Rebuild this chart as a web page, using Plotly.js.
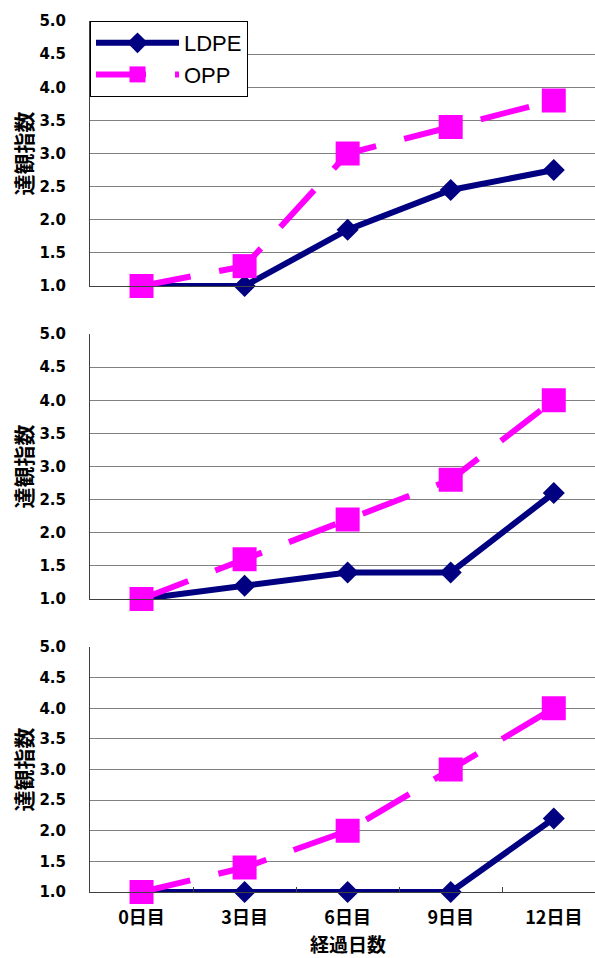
<!DOCTYPE html>
<html>
<head>
<meta charset="utf-8">
<script src="https://cdn.plot.ly/plotly-3.0.1.min.js"></script>
<style>html,body{margin:0;padding:0;background:#fff}</style>
</head>
<body>
<div id="chart" style="width:595px;height:958px"></div>
<script>
// Category labels and index values for the three storage trials
const days = ['0日目', '3日目', '6日目', '9日目', '12日目'];
const seriesNames = ['LDPE', 'OPP'];

const ldpePanel1 = [1.0, 1.0, 1.85, 2.45, 2.75];
const oppPanel1  = [1.0, 1.3, 3.0, 3.4, 3.8];

const ldpePanel2 = [1.0, 1.2, 1.4, 1.4, 2.6];
const oppPanel2  = [1.0, 1.6, 2.2, 2.8, 4.0];

const ldpePanel3 = [1.0, 1.0, 1.0, 1.0, 2.2];
const oppPanel3  = [1.0, 1.4, 2.0, 3.0, 4.0];

const yTickValues = [1.0, 1.5, 2.0, 2.5, 3.0, 3.5, 4.0, 4.5, 5.0];
const yTickLabels = ['1.0', '1.5', '2.0', '2.5', '3.0', '3.5', '4.0', '4.5', '5.0'];

const yTitleText = '達観指数';
const xTitleText = '経過日数';

// ---- layout geometry (pixels of the 595 x 958 page) ----
const W = 595, H = 958;
const px = v => v / W;
const py = v => 1 - v / H;
const panels = [
  { ldpe: ldpePanel1, opp: oppPanel1, top: 21,  bottom: 286 },
  { ldpe: ldpePanel2, opp: oppPanel2, top: 334, bottom: 599 },
  { ldpe: ldpePanel3, opp: oppPanel3, top: 647, bottom: 892 }
];

const NAVY = '#000080';
const MAGENTA = '#FF00FF';
const CJK = '"Noto Sans CJK JP", sans-serif';

const traces = [];
const layout = {
  width: W, height: H,
  margin: { l: 0, r: 0, t: 0, b: 0 },
  paper_bgcolor: '#ffffff',
  plot_bgcolor: '#ffffff',
  showlegend: true,
  legend: {
    x: px(90), y: py(21), xanchor: 'left', yanchor: 'top',
    bgcolor: '#ffffff', bordercolor: '#000000', borderwidth: 1,
    font: { family: '"Liberation Sans", Arial, sans-serif', size: 22, color: '#000000' },
    itemwidth: 83, tracegroupgap: 0, traceorder: 'normal',
    itemsizing: 'trace'
  },
  annotations: []
};

panels.forEach((p, i) => {
  const n = i + 1;
  const xa = n === 1 ? 'x' : 'x' + n;
  const ya = n === 1 ? 'y' : 'y' + n;
  const isLast = n === panels.length;

  traces.push({
    type: 'scatter', mode: 'lines+markers',
    x: days, y: p.ldpe, name: seriesNames[0],
    xaxis: xa, yaxis: ya, cliponaxis: false,
    legendgroup: 'ldpe', showlegend: n === 1,
    line: { color: NAVY, width: 6 },
    marker: { symbol: 'diamond', size: 17, color: NAVY },
    hoverinfo: 'x+y+name'
  });
  traces.push({
    type: 'scatter', mode: 'lines+markers',
    x: days, y: p.opp, name: seriesNames[1],
    xaxis: xa, yaxis: ya, cliponaxis: false,
    legendgroup: 'opp', showlegend: n === 1,
    line: { color: MAGENTA, width: 6, dash: '50px,29px' },
    marker: { symbol: 'square', size: 24, color: MAGENTA },
    hoverinfo: 'x+y+name'
  });

  layout['xaxis' + (n === 1 ? '' : n)] = {
    type: 'category',
    domain: [px(90), 1],
    anchor: ya,
    range: [-0.5, 4.4],
    showgrid: false,
    zeroline: false,
    showline: true, linecolor: '#404040', linewidth: 1,
    ticks: isLast ? 'inside' : '',
    tickson: 'boundaries',
    ticklen: 5, tickcolor: '#404040',
    showticklabels: isLast,
    ticklabelstandoff: 9,
    tickfont: { family: CJK, size: 18, color: '#000000', weight: 'bold' }
  };

  layout['yaxis' + (n === 1 ? '' : n)] = {
    domain: [py(p.bottom), py(p.top)],
    anchor: xa,
    range: [1, 5],
    tickvals: yTickValues,
    ticktext: yTickLabels,
    showgrid: true, gridcolor: '#808080', gridwidth: 1,
    zeroline: false,
    showline: true, linecolor: '#404040', linewidth: 1,
    ticks: '',
    ticklabelstandoff: 20,
    tickfont: { family: '"DejaVu Sans", sans-serif', size: 15, color: '#000000', weight: 'bold' }
  };

  layout.annotations.push({
    text: yTitleText,
    xref: 'paper', yref: 'paper',
    x: px(22), y: py((p.top + p.bottom) / 2),
    xanchor: 'center', yanchor: 'middle',
    textangle: -90, showarrow: false,
    font: { family: CJK, size: 21, color: '#000000', weight: 'bold' }
  });
});

// x-axis title under the bottom panel, centred on the middle category
layout.annotations.push({
  text: xTitleText,
  xref: 'x3', yref: 'paper',
  x: days[2], y: py(943.5),
  xanchor: 'center', yanchor: 'middle',
  borderpad: 0,
  showarrow: false,
  font: { family: CJK, size: 19, color: '#000000', weight: 'bold' }
});

Plotly.newPlot('chart', traces, layout, { displayModeBar: false, staticPlot: true });
</script>
</body>
</html>
